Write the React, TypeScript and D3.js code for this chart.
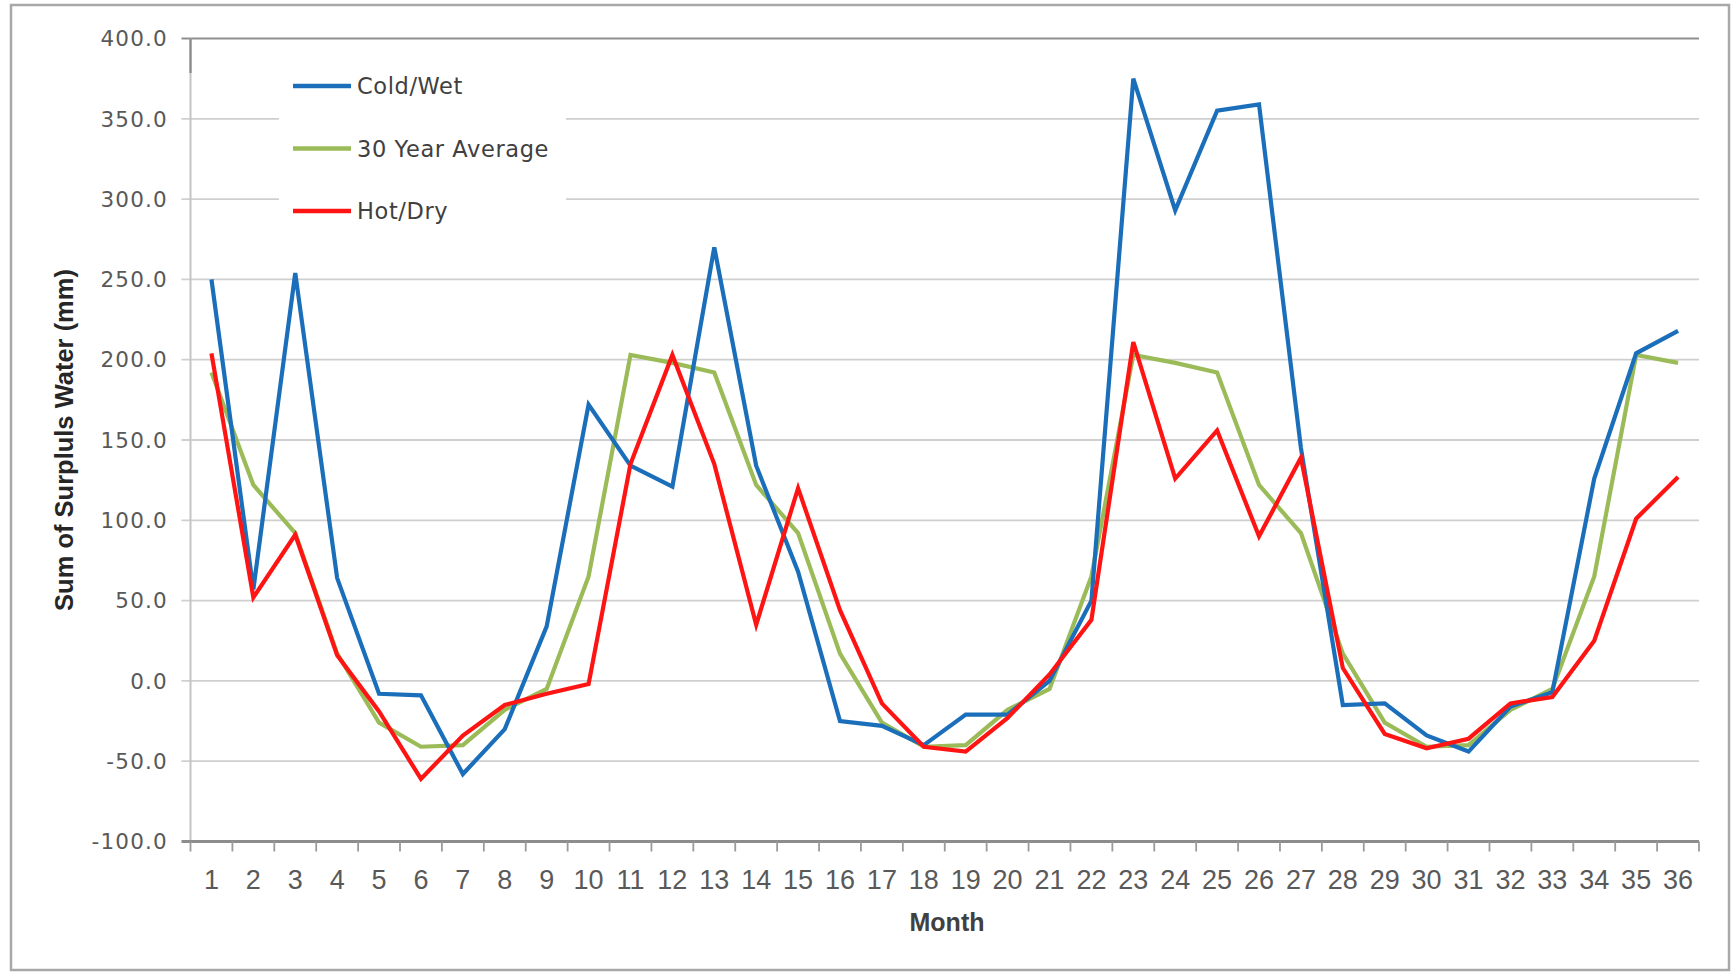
import React from "react";
import * as d3 from "d3";

const months = ["1","2","3","4","5","6","7","8","9","10","11","12","13","14","15","16","17","18","19","20","21","22","23","24","25","26","27","28","29","30","31","32","33","34","35","36"];

const coldWet = [250, 57, 254, 64, -8, -9, -58, -30, 34, 172, 134, 121, 270, 134, 68, -25, -28, -40, -21, -21, 0, 50, 375, 293, 355, 359, 145, -15, -14, -34, -44, -16, -7, 126, 204, 218];
const avg30 = [192, 122, 92, 17, -26, -41, -40, -18, -5, 65, 203, 198, 192, 122, 92, 17, -26, -41, -40, -18, -5, 65, 203, 198, 192, 122, 92, 17, -26, -41, -40, -18, -5, 65, 203, 198];
const hotDry = [204, 52, 91, 16, -19, -61, -34, -15, -8, -2, 135, 203, 135, 35, 120, 44, -14, -41, -44, -23, 4, 38, 211, 126, 156, 90, 139, 8, -33, -42, -36, -14, -10, 25, 101, 127];

const yTicks = [-100, -50, 0, 50, 100, 150, 200, 250, 300, 350, 400];

const seriesNames = ["Cold/Wet", "30 Year Average", "Hot/Dry"];
const seriesColors = ["#1B6FBA", "#9BBB59", "#FF1414"];

export default function App() {
  const W = 1732;
  const H = 973;
  const left = 190.5;
  const right = 1699;
  const top = 38.5;
  const bottom = 841.5;

  const x = d3.scaleBand<string>().domain(months).range([left, right]).paddingInner(0).paddingOuter(0);
  const y = d3.scaleLinear().domain([-100, 400]).range([bottom, top]);
  const cx = (m: string) => (x(m) as number) + x.bandwidth() / 2;

  const line = d3
    .line<number>()
    .x((_, i) => cx(months[i]))
    .y((d) => y(d));

  const allSeries = [coldWet, avg30, hotDry];
  const drawOrder = [1, 0, 2];

  const labelFont = "'DejaVu Sans', sans-serif";
  const xFont = "'Liberation Sans', Arial, sans-serif";

  const boundaries = months.map((m) => x(m) as number).concat([right]);

  return (
    <svg
      width={W}
      height={H}
      viewBox={`0 0 ${W} ${H}`}
      style={{ position: "absolute", left: 0, top: 0, display: "block", background: "#fff" }}
    >
      <rect x={0} y={0} width={W} height={H} fill="#fff" />
      <rect x={11} y={5} width={1718} height={965} fill="#fff" stroke="#a8a8a8" strokeWidth={2.5} />

      {/* gridlines */}
      {yTicks
        .filter((t) => t !== -100)
        .map((t) => (
          <line
            key={"g" + t}
            x1={left - 9}
            x2={right}
            y1={y(t)}
            y2={y(t)}
            stroke={t === 400 ? "#8f8f8f" : "#cfcfcf"}
            strokeWidth={t === 400 ? 2.2 : 1.8}
          />
        ))}

      {/* legend background */}
      <rect x={279} y={56} width={287} height={168} fill="#fff" />

      {/* y axis */}
      <line x1={left} x2={left} y1={top} y2={bottom} stroke="#c4c4c4" strokeWidth={2} />
      <line x1={left} x2={left} y1={top} y2={73} stroke="#8a8a8a" strokeWidth={2.2} />

      {/* x axis */}
      <line x1={left - 9} x2={right} y1={bottom} y2={bottom} stroke="#8c8c8c" strokeWidth={3} />
      {boundaries.map((b, i) => (
        <line key={"t" + i} x1={b} x2={b} y1={bottom} y2={bottom + 10} stroke="#9a9a9a" strokeWidth={1.8} />
      ))}

      {/* series */}
      {drawOrder.map((si) => (
        <path
          key={"s" + si}
          d={line(allSeries[si]) || ""}
          fill="none"
          stroke={seriesColors[si]}
          strokeWidth={4.2}
          strokeLinejoin="miter"
          strokeMiterlimit={4}
        />
      ))}

      {/* y tick labels */}
      {yTicks.map((t) => (
        <text
          key={"yl" + t}
          x={168}
          y={y(t)}
          dy="0.36em"
          textAnchor="end"
          fontFamily={labelFont}
          fontSize={21.5}
          letterSpacing={1.2}
          fill="#595959"
        >
          {t.toFixed(1)}
        </text>
      ))}

      {/* x tick labels */}
      {months.map((m) => (
        <text
          key={"xl" + m}
          x={cx(m)}
          y={889}
          textAnchor="middle"
          fontFamily={xFont}
          fontSize={27}
          fill="#595959"
        >
          {m}
        </text>
      ))}

      {/* axis titles */}
      <text
        x={947}
        y={931}
        textAnchor="middle"
        fontFamily={xFont}
        fontWeight="bold"
        fontSize={25}
        fill="#404040"
      >
        Month
      </text>
      <text
        transform={`translate(73,440) rotate(-90)`}
        textAnchor="middle"
        fontFamily={xFont}
        fontWeight="bold"
        fontSize={25.5}
        fill="#262626"
      >
        Sum of Surpluls Water (mm)
      </text>

      {/* legend */}
      {seriesNames.map((n, i) => {
        const ly = 86 + i * 62.5;
        return (
          <g key={"lg" + i}>
            <line x1={293} x2={351} y1={ly} y2={ly} stroke={seriesColors[i]} strokeWidth={4.5} />
            <text
              x={357}
              y={ly}
              dy="0.36em"
              fontFamily={labelFont}
              fontSize={22.5}
              letterSpacing={0.6}
              fill="#404040"
            >
              {n}
            </text>
          </g>
        );
      })}
    </svg>
  );
}
